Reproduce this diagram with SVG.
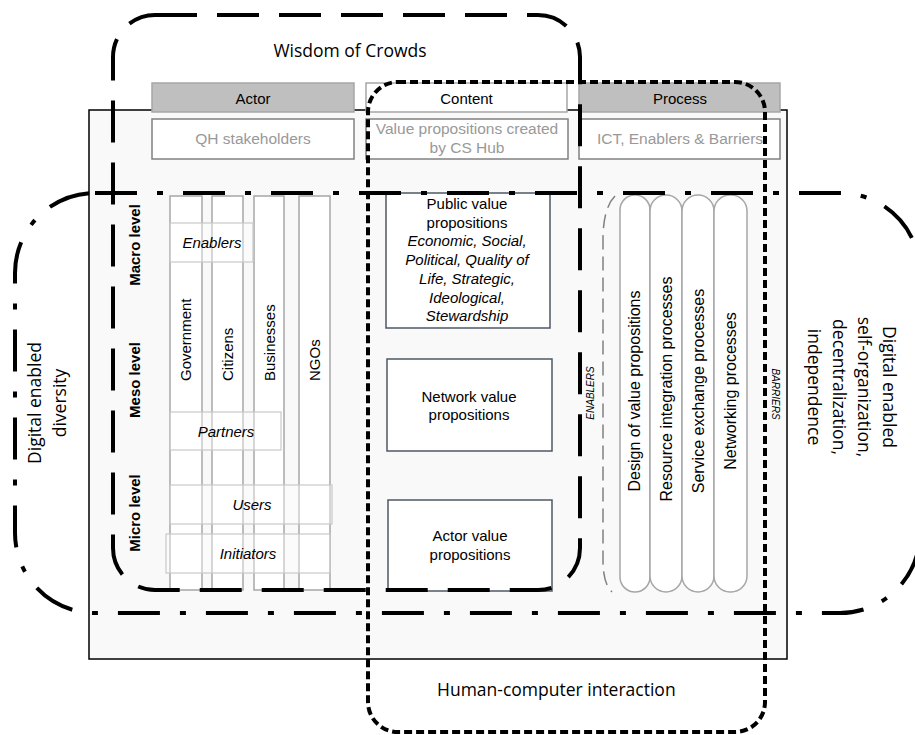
<svg xmlns="http://www.w3.org/2000/svg" width="915" height="735" viewBox="0 0 915 735">
<style>
.t{font-family:"Liberation Sans",Arial,sans-serif;font-size:15px;fill:#000}
.c{text-anchor:middle}
.i{font-style:italic}
.b{font-weight:bold}
.g{fill:#999;font-size:15.5px}
.p{font-size:16px}
.big{font-family:"Open Sans","Liberation Sans",sans-serif;font-size:17.5px;fill:#000}
.hdr{fill:#bfbfbf;stroke:#a6a6a6;stroke-width:1.5}
.sub{fill:#fff;stroke:#808080;stroke-width:1.5}
.col{fill:#fff;stroke:#a6a6a6;stroke-width:1.5}
.ovl{fill:#fff;fill-opacity:0.4;stroke:#c8c8c8;stroke-width:1.2}
.cb{fill:#fff;stroke:#4d5866;stroke-width:1.5}
.pill{fill:#fff;stroke:#a6a6a6;stroke-width:1.5}
.tiny{font-family:"Liberation Sans",Arial,sans-serif;font-size:10px;font-style:italic;fill:#000}
.bd{fill:none;stroke:#000;stroke-width:4}
</style>

<g id="main-frame">
<rect x="89" y="110" width="698" height="549" fill="#f9f9f9" stroke="#000" stroke-width="1.5"/>
</g>

<g id="header-actor">
<rect class="hdr" x="152" y="83" width="202" height="29"/>
<text class="t c" x="253" y="104">Actor</text>
</g>
<g id="header-content">
<rect x="366" y="83" width="201" height="29" fill="#fff" stroke="#a6a6a6" stroke-width="1.5"/>
<text class="t c" x="466.5" y="104">Content</text>
</g>
<g id="header-process">
<rect class="hdr" x="579" y="83" width="201" height="29"/>
<text class="t c" x="680" y="104">Process</text>
</g>

<g id="sub-actor">
<rect class="sub" x="152" y="119" width="202" height="40"/>
<text class="t c g" x="253" y="144">QH stakeholders</text>
</g>
<g id="sub-content">
<rect class="sub" x="366" y="119" width="202" height="40"/>
<text class="t c g" x="467" y="134">Value propositions created</text>
<text class="t c g" x="467" y="153">by CS Hub</text>
</g>
<g id="sub-process">
<rect class="sub" x="579" y="119" width="201" height="40"/>
<text class="t c g" x="680" y="144">ICT, Enablers &amp; Barriers</text>
</g>

<g id="levels">
<text class="t c b" transform="translate(140,245) rotate(-90)">Macro level</text>
<text class="t c b" transform="translate(140,380) rotate(-90)">Meso level</text>
<text class="t c b" transform="translate(140,513) rotate(-90)">Micro level</text>
</g>

<g id="col-government">
<rect class="col" x="170" y="196" width="32" height="394"/>
<text class="t" transform="translate(191,381) rotate(-90)">Government</text>
</g>
<g id="col-citizens">
<rect class="col" x="212" y="196" width="31" height="394"/>
<text class="t" transform="translate(233,381) rotate(-90)">Citizens</text>
</g>
<g id="col-businesses">
<rect class="col" x="254" y="196" width="30" height="394"/>
<text class="t" transform="translate(274.5,381) rotate(-90)">Businesses</text>
</g>
<g id="col-ngos">
<rect class="col" x="299" y="196" width="31" height="394"/>
<text class="t" transform="translate(320,381) rotate(-90)">NGOs</text>
</g>

<g id="ovl-enablers">
<rect class="ovl" x="170" y="223" width="83" height="39"/>
<text class="t c i" x="212" y="248">Enablers</text>
</g>
<g id="ovl-partners">
<rect class="ovl" x="170" y="412" width="111" height="38"/>
<text class="t c i" x="226" y="437">Partners</text>
</g>
<g id="ovl-users">
<rect class="ovl" x="170" y="485" width="162" height="39"/>
<text class="t c i" x="252" y="510">Users</text>
</g>
<g id="ovl-initiators">
<rect class="ovl" x="166" y="534" width="164" height="39"/>
<text class="t c i" x="248" y="559">Initiators</text>
</g>

<g id="public-vp">
<rect class="cb" x="386" y="193" width="164" height="135"/>
<text class="t c" x="467" y="209">Public value</text>
<text class="t c" x="467" y="227.7">propositions</text>
<text class="t c i" x="467" y="246.4">Economic, Social,</text>
<text class="t c i" x="467" y="265.1">Political, Quality of</text>
<text class="t c i" x="467" y="283.8">Life, Strategic,</text>
<text class="t c i" x="467" y="302.5">Ideological,</text>
<text class="t c i" x="467" y="321.2">Stewardship</text>
</g>
<g id="network-vp">
<rect class="cb" x="387" y="359" width="165" height="92"/>
<text class="t c" x="469" y="401.5">Network value</text>
<text class="t c" x="469" y="420">propositions</text>
</g>
<g id="actor-vp">
<rect class="cb" x="388" y="500" width="164" height="91"/>
<text class="t c" x="470" y="541">Actor value</text>
<text class="t c" x="470" y="559.7">propositions</text>
</g>

<g id="enablers-label">
<text class="tiny c" transform="translate(594,393) rotate(-90)">ENABLERS</text>
</g>
<g id="enablers-bracket">
<path d="M615,196 Q603,208 603,240 L603,560 Q603,584 612,592" fill="none" stroke="#808080" stroke-width="1.5" stroke-dasharray="14 7"/>
</g>

<g id="pill-design">
<rect class="pill" x="620" y="195" width="30" height="397" rx="15"/>
<text class="t c p" transform="translate(640,391) rotate(-90)">Design of value propositions</text>
</g>
<g id="pill-resource">
<rect class="pill" x="650" y="195" width="32" height="397" rx="16"/>
<text class="t c p" transform="translate(672,389) rotate(-90)">Resource integration processes</text>
</g>
<g id="pill-service">
<rect class="pill" x="682" y="195" width="32" height="397" rx="16"/>
<text class="t c p" transform="translate(704,391) rotate(-90)">Service exchange processes</text>
</g>
<g id="pill-networking">
<rect class="pill" x="714" y="195" width="33" height="397" rx="16"/>
<text class="t c p" transform="translate(736,391) rotate(-90)">Networking processes</text>
</g>

<g id="barriers-label">
<text class="tiny c" transform="translate(772,394) rotate(90)">BARRIERS</text>
</g>

<g id="connectors">
<rect id="wisdom" class="bd" x="113" y="15" width="467" height="575" rx="42" ry="42" stroke-dasharray="42 20"/>
<rect id="hci" class="bd" x="368" y="82" width="397" height="650" rx="30" ry="30" stroke-dasharray="8 4"/>
<rect id="digital" class="bd" x="15" y="193" width="905" height="420" rx="80" ry="80" stroke-dasharray="42 20 6 20"/>
</g>

<g id="labels">
<text class="big c" x="350" y="57">Wisdom of Crowds</text>
<text class="big" x="437" y="695.5">Human-computer interaction</text>
<text class="big c" transform="translate(41,403) rotate(-90)">Digital enabled</text>
<text class="big c" transform="translate(66,403) rotate(-90)">diversity</text>
<text class="big c" transform="translate(882.5,387) rotate(90)">Digital enabled</text>
<text class="big c" transform="translate(857.5,387) rotate(90)">self-organization,</text>
<text class="big c" transform="translate(832.5,387) rotate(90)">decentralization,</text>
<text class="big c" transform="translate(807.5,387) rotate(90)">independence</text>
</g>
</svg>
